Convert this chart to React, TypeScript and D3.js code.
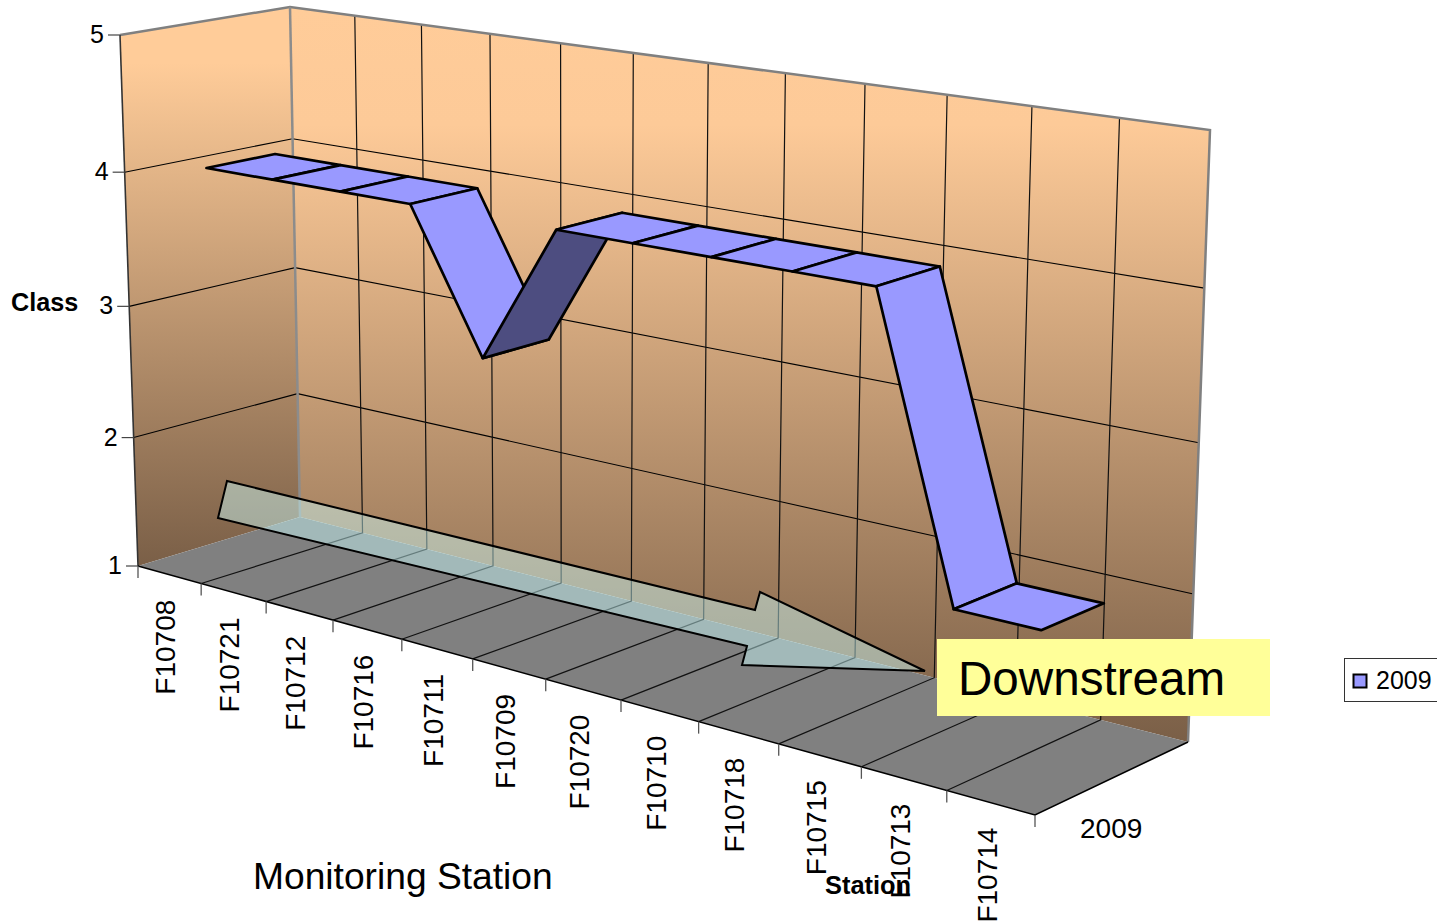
import React from "react";
import * as d3 from "d3";

const categories = ["F10708","F10721","F10712","F10716","F10711","F10709","F10720","F10710","F10718","F10715","F10713","F10714"];
const seriesName = "2009";
const values2009 = [4,4,4,4,3,4,4,4,4,4,2,2];
const classTicks = [1,2,3,4,5];

type P = [number, number];
// plot box corners on screen: [value 1 / value 5] x [front / back] x [left / right]
const frontLeftBottom: P = [138,566], frontLeftTop: P = [120,35];
const frontRightBottom: P = [1035,815], frontRightTop: P = [1060,176];
const backLeftBottom: P = [300,517], backLeftTop: P = [290,7];
const backRightBottom: P = [1188,742], backRightTop: P = [1210,130];

const warp = (t: number, c: number) => t / (t + c * (1 - t));
const catScale = d3.scaleLinear().domain([0, categories.length]).range([0, 1]);
const valScale = d3.scaleLinear().domain([1, 5]).range([0, 1]);
const mix = (a: P, b: P, t: number): P => [a[0] + (b[0] - a[0]) * t, a[1] + (b[1] - a[1]) * t];

function project(u: number, v: number, w: number): P {
  const su = warp(catScale(u), 1.2);
  const sv = warp(valScale(v), 1.045);
  const fl = mix(frontLeftBottom, frontLeftTop, sv);
  const fr = mix(frontRightBottom, frontRightTop, sv);
  const bl = mix(backLeftBottom, backLeftTop, sv);
  const br = mix(backRightBottom, backRightTop, sv);
  return mix(mix(fl, fr, su), mix(bl, br, su), w);
}

const line = d3.line<P>();
const closed = (pts: P[]) => line(pts) + "Z";

const ribbonFront = 0.295, ribbonBack = 0.705;
const FONT = "'Liberation Sans', Arial, sans-serif";
const n = categories.length;

const arrowOutline: P[] = [[227,481],[218,518],[747,646],[742,665],[925,671],[760,592],[755,610]];

export default function App() {
  const segs = d3.pairs(values2009.map((v, i) => ({ v, u: i + 0.5 })));
  return (
    <svg width={1437} height={922} style={{ position: "absolute", left: 0, top: 0, display: "block" }} fontFamily={FONT}>
      <defs>
        <linearGradient id="wallLeft" x1="0" y1="0" x2="0" y2="1">
          <stop offset="0" stopColor="#ffcc99" />
          <stop offset="0.1" stopColor="#ffcc99" />
          <stop offset="1" stopColor="#7a5f47" />
        </linearGradient>
        <linearGradient id="wallBack" x1="0" y1="0" x2="0" y2="1">
          <stop offset="0" stopColor="#ffcc99" />
          <stop offset="0.16" stopColor="#fdca98" />
          <stop offset="1" stopColor="#7a5f47" />
        </linearGradient>
      </defs>

      <path d={closed([project(0,1,0), project(0,5,0), project(0,5,1), project(0,1,1)])} fill="url(#wallLeft)" />
      <path d={closed([project(0,1,1), project(0,5,1), project(n,5,1), project(n,1,1)])} fill="url(#wallBack)" />
      <path d={closed([project(0,1,0), project(0,1,1), project(n,1,1), project(n,1,0)])} fill="#808080" />

      {classTicks.slice(1, -1).map((v) => (
        <path key={v} d={line([project(0,v,0), project(0,v,1), project(n,v,1)])!} fill="none" stroke="#000" strokeWidth={1.1} />
      ))}
      {d3.range(1, n).map((u) => (
        <path key={u} d={line([project(u,1,0), project(u,1,1), project(u,5,1)])!} fill="none" stroke="#111" strokeWidth={1.2} />
      ))}

      {/* wall edges */}
      <path d={line([project(0,5,0), project(0,5,1), project(n,5,1), project(n,1,1)])!} fill="none" stroke="#808080" strokeWidth={2.5} />
      <path d={line([project(0,5,1), project(0,1,1)])!} fill="none" stroke="#8c8c8c" strokeWidth={2.5} />
      <path d={line([project(0,5,0), project(0,1,0)])!} fill="none" stroke="#333" strokeWidth={1.6} />
      <path d={line([project(0,1,0), project(n,1,0), project(n,1,1)])!} fill="none" stroke="#000" strokeWidth={1.6} />

      {/* axis ticks */}
      {classTicks.map((v) => {
        const [x, y] = project(0, v, 0);
        return (
          <g key={v}>
            <line x1={x - 12} x2={x} y1={y} y2={y} stroke="#444" strokeWidth={1.2} />
            <text x={x - 16} y={y + 8} fontSize={25} textAnchor="end" fill="#000">{v}</text>
          </g>
        );
      })}
      {d3.range(0, n + 1).map((u) => {
        const [x, y] = project(u, 1, 0);
        return <line key={u} x1={x} x2={x} y1={y} y2={y + 12} stroke="#555" strokeWidth={1.3} />;
      })}

      {/* category labels */}
      {categories.map((c, i) => {
        const [x, y] = project(i + 0.5, 1, 0);
        return (
          <text key={c} transform={`translate(${x + 6},${y + 25}) rotate(-90)`} fontSize={28} textAnchor="end" fill="#000">{c}</text>
        );
      })}

      {/* series ribbon */}
      {segs.map(([a, b], i) => {
        const rising = b.v > a.v;
        return (
          <path
            key={i}
            d={closed([project(a.u,a.v,ribbonFront), project(a.u,a.v,ribbonBack), project(b.u,b.v,ribbonBack), project(b.u,b.v,ribbonFront)])}
            fill={rising ? "#4d4d80" : "#9999ff"}
            stroke="#000"
            strokeWidth={2.7}
            strokeLinejoin="round"
          />
        );
      })}

      {/* downstream arrow */}
      <path d={closed(arrowOutline)} fill="#ccffff" fillOpacity={0.45} stroke="#000" strokeWidth={2} strokeLinejoin="miter" />

      <rect x={937} y={639} width={333} height={77} fill="#ffff99" />
      <text x={958} y={695} fontSize={47.6} fill="#000">Downstream</text>

      <text x={11} y={311} fontSize={25.2} fontWeight="bold" fill="#000">Class</text>
      <text x={1080} y={838} fontSize={28} fill="#000">{seriesName}</text>
      <text x={253} y={889} fontSize={37.2} fill="#000">Monitoring Station</text>
      <text x={825} y={894} fontSize={25.4} fontWeight="bold" fill="#000">Station</text>

      {/* legend */}
      <rect x={1344.5} y={658.5} width={100} height={43} fill="#fff" stroke="#333" strokeWidth={1} />
      <rect x={1353.5} y={674.5} width={13} height={13} fill="#9999ff" stroke="#000" strokeWidth={2} />
      <text x={1376} y={689} fontSize={25} fill="#000">{seriesName}</text>
    </svg>
  );
}
